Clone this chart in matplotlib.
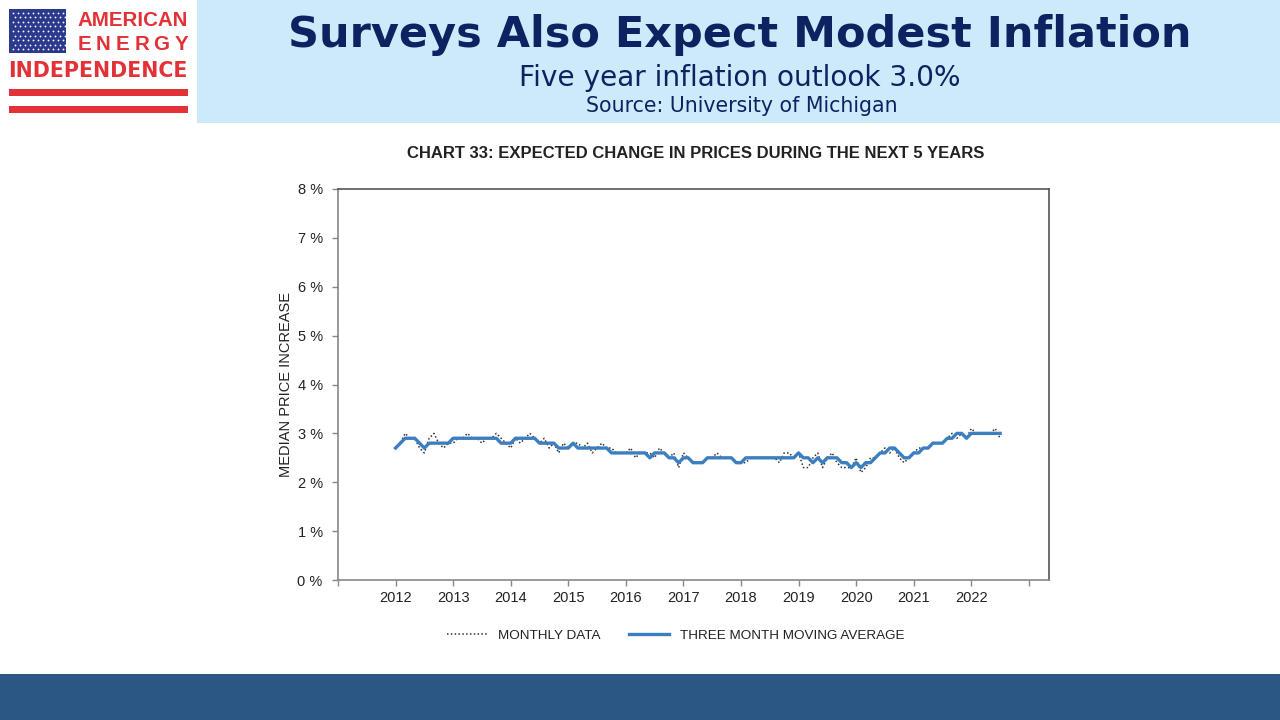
import matplotlib.pyplot as plt
from matplotlib.patches import Rectangle
import numpy as np

# survey months, Jan 2012 .. Jul 2022
start_year = 2012
monthly = [
    2.7, 2.8, 3.0, 2.9, 2.9, 2.7, 2.6, 2.9, 3.0, 2.8, 2.7, 2.8,   # 2012
    2.8, 2.9, 2.9, 3.0, 2.9, 2.9, 2.8, 2.9, 2.9, 3.0, 2.9, 2.8,   # 2013
    2.7, 2.9, 2.8, 2.9, 3.0, 2.9, 2.8, 2.9, 2.7, 2.8, 2.6, 2.8,   # 2014
    2.7, 2.8, 2.8, 2.7, 2.8, 2.6, 2.7, 2.8, 2.7, 2.7, 2.6, 2.6,   # 2015
    2.6, 2.7, 2.5, 2.6, 2.6, 2.6, 2.5, 2.7, 2.6, 2.5, 2.6, 2.3,   # 2016
    2.6, 2.5, 2.4, 2.4, 2.4, 2.5, 2.5, 2.6, 2.5, 2.5, 2.5, 2.4,   # 2017
    2.4, 2.4, 2.5, 2.5, 2.5, 2.5, 2.5, 2.5, 2.4, 2.6, 2.6, 2.5,   # 2018
    2.6, 2.3, 2.3, 2.5, 2.6, 2.3, 2.5, 2.6, 2.4, 2.3, 2.3, 2.3,   # 2019
    2.5, 2.2, 2.3, 2.5, 2.5, 2.6, 2.7, 2.6, 2.7, 2.5, 2.4, 2.5,   # 2020
    2.6, 2.7, 2.7, 2.7, 2.8, 2.8, 2.8, 2.9, 3.0, 2.9, 3.0, 2.9,   # 2021
    3.1, 3.0, 3.0, 3.0, 3.0, 3.1, 2.9,                            # 2022
]
moving_avg = [
    2.7, 2.8, 2.9, 2.9, 2.9, 2.8, 2.7, 2.8, 2.8, 2.8, 2.8, 2.8,
    2.9, 2.9, 2.9, 2.9, 2.9, 2.9, 2.9, 2.9, 2.9, 2.9, 2.8, 2.8,
    2.8, 2.9, 2.9, 2.9, 2.9, 2.9, 2.8, 2.8, 2.8, 2.8, 2.7, 2.7,
    2.7, 2.8, 2.7, 2.7, 2.7, 2.7, 2.7, 2.7, 2.7, 2.6, 2.6, 2.6,
    2.6, 2.6, 2.6, 2.6, 2.6, 2.5, 2.6, 2.6, 2.6, 2.5, 2.5, 2.4,
    2.5, 2.5, 2.4, 2.4, 2.4, 2.5, 2.5, 2.5, 2.5, 2.5, 2.5, 2.4,
    2.4, 2.5, 2.5, 2.5, 2.5, 2.5, 2.5, 2.5, 2.5, 2.5, 2.5, 2.5,
    2.6, 2.5, 2.5, 2.4, 2.5, 2.4, 2.5, 2.5, 2.5, 2.4, 2.4, 2.3,
    2.4, 2.3, 2.4, 2.4, 2.5, 2.6, 2.6, 2.7, 2.7, 2.6, 2.5, 2.5,
    2.6, 2.6, 2.7, 2.7, 2.8, 2.8, 2.8, 2.9, 2.9, 3.0, 3.0, 2.9,
    3.0, 3.0, 3.0, 3.0, 3.0, 3.0, 3.0,
]
year_ticks = list(range(2011, 2024))
year_labels = ["" if y in (2011, 2023) else str(y) for y in year_ticks]
pct_ticks = list(range(0, 9))

t = start_year + np.arange(len(monthly)) / 12.0

navy = "#0d2260"
red = "#e23237"

fig = plt.figure(figsize=(12.8, 7.2), dpi=100)

# slide decoration in pixel coords
bg = fig.add_axes([0, 0, 1, 1])
bg.set_xlim(0, 1280)
bg.set_ylim(720, 0)
bg.axis("off")
bg.add_patch(Rectangle((197, 0), 1083, 123, color="#cdeafb", lw=0))
bg.add_patch(Rectangle((0, 674), 1280, 46, color="#2a5783", lw=0))

# logo
bg.add_patch(Rectangle((9, 9), 57, 44, color="#2b3a8c", lw=0))
for r in range(9):
    for c in range(11):
        bg.plot(12.5 + c * 5 + (r % 2) * 2.5, 12.5 + r * 4.6, "o", ms=1.3,
                color="white", mec="none")
bg.text(188, 20, "AMERICAN", color=red, fontsize=14.8, fontweight="bold",
        ha="right", va="center", family="Liberation Sans")
for k, ch in enumerate("ENERGY"):
    bg.text(84 + k * 19.4, 45, ch, color=red, fontsize=14.8, fontweight="bold",
            ha="center", va="center", family="Liberation Sans")
bg.text(98, 71, "INDEPENDENCE", color=red, fontsize=14.8, fontweight="bold",
        ha="center", va="center", family="DejaVu Sans")
bg.add_patch(Rectangle((9, 89), 179, 7, color=red, lw=0))
bg.add_patch(Rectangle((9, 106), 179, 7, color=red, lw=0))

bg.text(740, 35, "Surveys Also Expect Modest Inflation", color=navy,
        fontsize=31, fontweight="bold", ha="center", va="center",
        family="DejaVu Sans")
bg.text(740, 78, "Five year inflation outlook 3.0%", color=navy,
        fontsize=20.2, ha="center", va="center", family="DejaVu Sans")
bg.text(742, 106, "Source: University of Michigan", color=navy,
        fontsize=14.8, ha="center", va="center", family="DejaVu Sans")

bg.text(696, 153, "CHART 33: EXPECTED CHANGE IN PRICES DURING THE NEXT 5 YEARS",
        color="#222222", fontsize=12, fontweight="bold", ha="center",
        va="center", family="Liberation Sans")

# chart
ax = fig.add_axes([338 / 1280, 1 - 580 / 720, (1049 - 338) / 1280, (580 - 189) / 720])
ax.plot(t, monthly, color="#333333", lw=1.1, ls=(0, (1, 1.5)), label="MONTHLY DATA")
ax.plot(t, moving_avg, color="#3b7fc0", lw=2.4, label="THREE MONTH MOVING AVERAGE")
ax.set_xlim(2011, 2023.35)
ax.set_ylim(0, 8)
ax.set_xticks(year_ticks)
ax.set_xticklabels(year_labels)
ax.set_yticks(pct_ticks)
ax.set_yticklabels([f"{p} %" for p in pct_ticks])
for s in ax.spines.values():
    s.set_color("#555555")
    s.set_linewidth(1.2)
ax.spines["left"].set_color("#888888")
ax.spines["bottom"].set_color("#888888")
ax.tick_params(axis="both", colors="#888888", length=4, width=1,
               labelcolor="#222222", labelsize=10.5)
ax.tick_params(axis="x", pad=4)
ax.tick_params(axis="y", pad=7)
for lbl in ax.get_xticklabels() + ax.get_yticklabels():
    lbl.set_family("Liberation Sans")
ax.set_ylabel("MEDIAN PRICE INCREASE", fontsize=10.5, color="#222222",
              family="Liberation Sans", labelpad=3.5)

leg = ax.legend(loc="upper center", bbox_to_anchor=(0.475, -0.095), ncol=2,
                frameon=False, handlelength=3.0, columnspacing=2.1,
                prop={"family": "Liberation Sans", "size": 9.7})
for txt in leg.get_texts():
    txt.set_color("#222222")

fig.savefig("out.png", dpi=100)
